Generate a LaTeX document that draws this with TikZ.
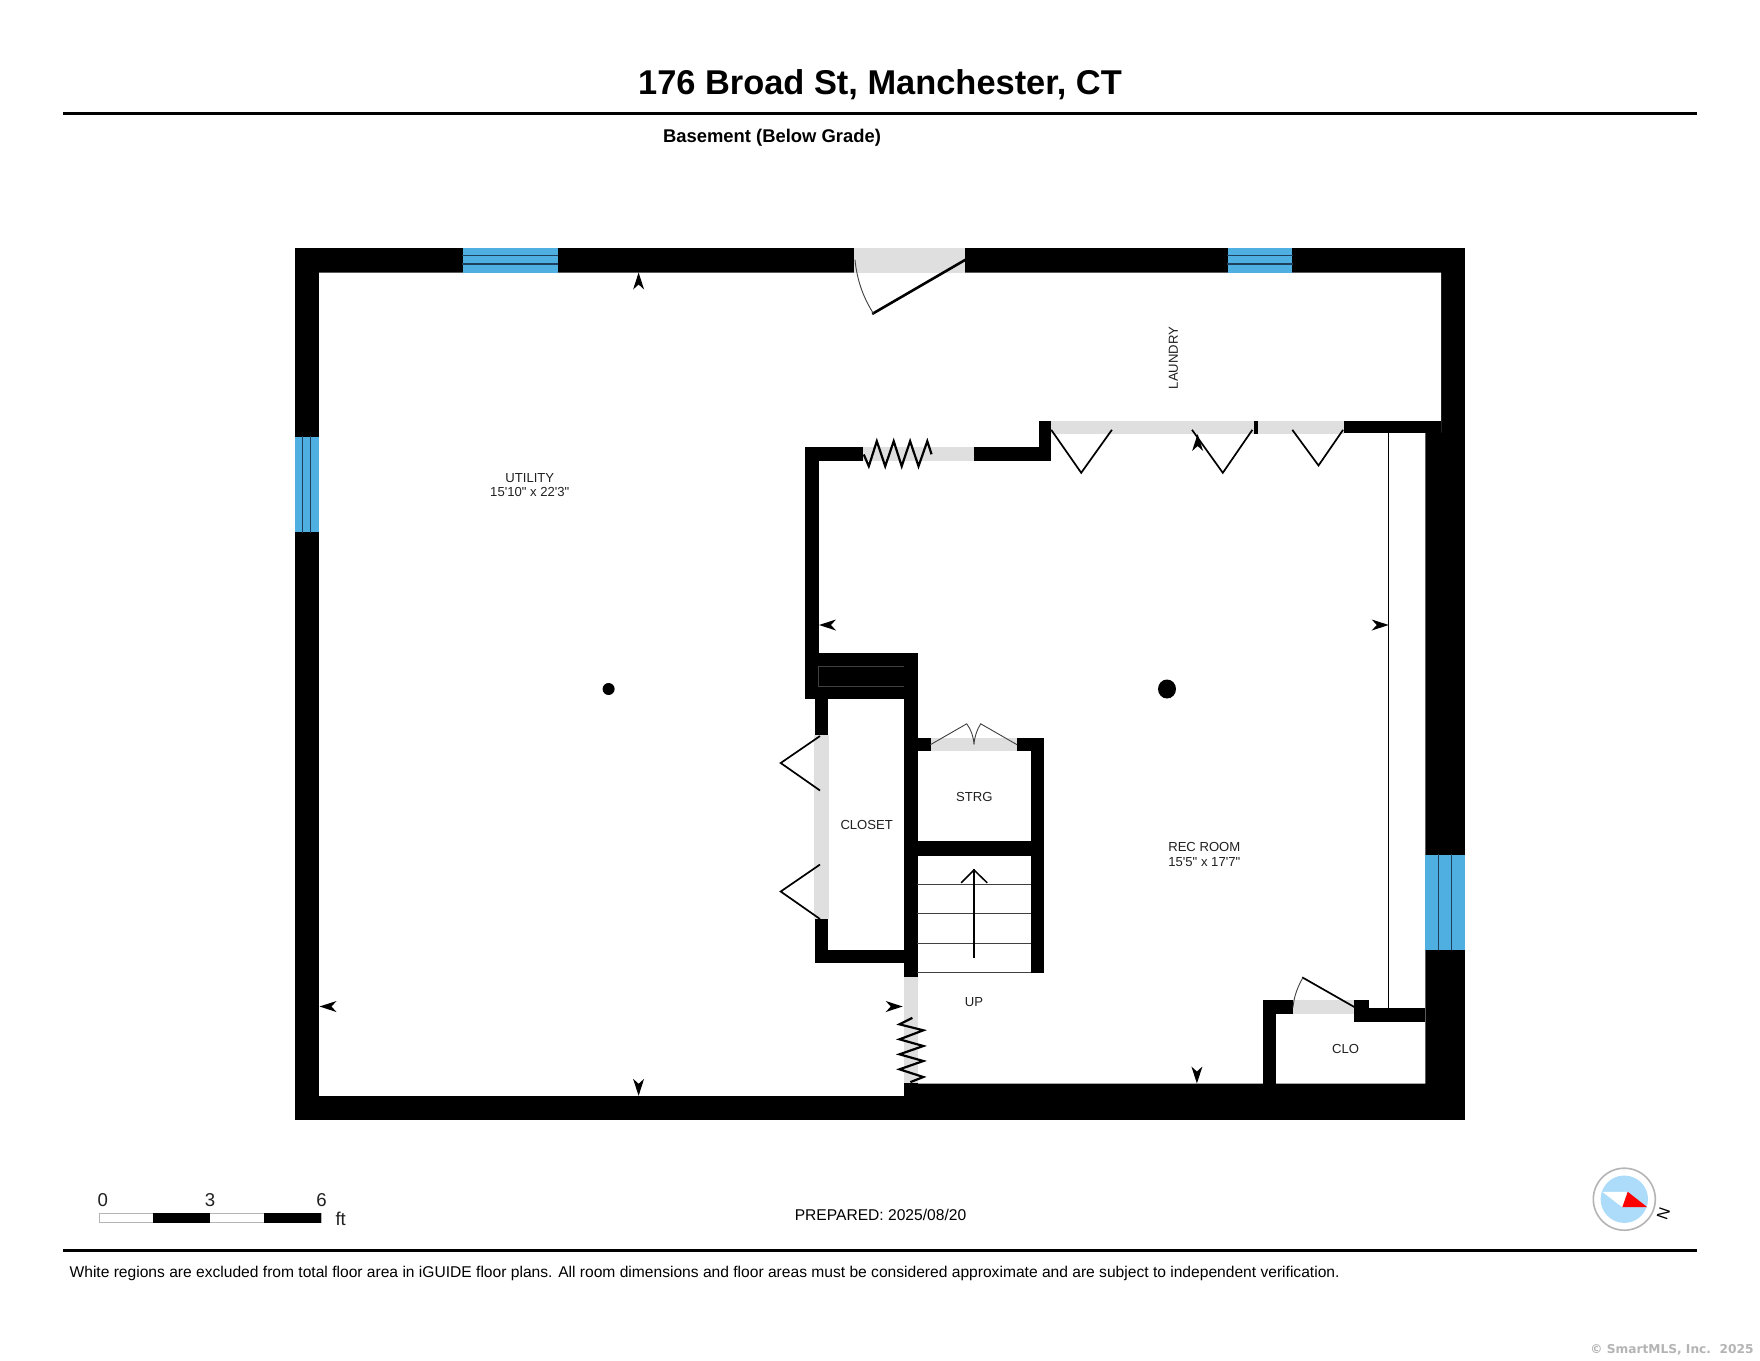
\documentclass[tikz,border=0pt]{standalone}
\usepackage{fontspec}
\newfontfamily\planfont{Liberation Sans}
\newfontfamily\stampfont{DejaVu Sans}
\begin{document}
\begin{tikzpicture}[x=1pt,y=-1pt,line cap=rect,
	wall/.style={fill=black},
	glass/.style={fill=custcol_4f_af_e0},
	glassline/.style={line width=1.3pt, custcol_1f_3f_5f},
	opening/.style={fill=custcol_df_df_df},
	leaf/.style={line width=1.7pt, black},
	swing/.style={line width=0.9pt, custcol_40_40_40},
	rule/.style={line width=3pt, black},
	roomlabel/.style={inner sep=0, outer sep=0, custcol_20_20_20, align=center, font=\planfont\fontsize{13.1pt}{14.6pt}\selectfont},
	scalelabel/.style={inner sep=0, outer sep=0, custcol_20_20_20, font=\planfont\fontsize{18.6pt}{18.6pt}\selectfont},
	sheetlabel/.style={inner sep=0, outer sep=0, black, font=\planfont\fontsize{15.6pt}{15.6pt}\selectfont}]
\definecolor{custcol_4f_af_e0}{RGB}{79, 175, 224}
\definecolor{custcol_1f_3f_5f}{RGB}{31, 63, 95}
\definecolor{custcol_df_df_df}{RGB}{223, 223, 223}
\definecolor{custcol_40_40_40}{RGB}{64, 64, 64}
\definecolor{custcol_20_20_20}{RGB}{32, 32, 32}
\definecolor{custcol_ad_dc_fa}{RGB}{173, 220, 250}
\definecolor{custcol_b4_b4_b4}{RGB}{180, 180, 180}
\useasboundingbox (0,0) rectangle (1760,1360);
\fill [white] (0,0) rectangle (1760,1360);
% heading
\node[inner sep=0, outer sep=0, black, font=\planfont\bfseries\fontsize{34.4pt}{34.4pt}\selectfont] (title) at (880,85) {176 Broad St, Manchester, CT};
\draw [rule] (64.5,113) -- (1695.5,113);
\node[inner sep=0, outer sep=0, black, font=\planfont\bfseries\fontsize{18.4pt}{18.4pt}\selectfont] (level) at (772,138) {Basement (Below Grade)};
% shell
\fill [wall] (294.5,247.5) rectangle (1465,1119.8);
\fill [white] (319,272.5) -- (1441,272.5) -- (1441,432.7) -- (1425.4,432.7) -- (1425.4,1083.5) -- (904.3,1083.5) -- (904.3,1095.8) -- (319,1095.8) -- cycle;
% windows
\fill [glass] (462.8,247.5) rectangle (557.8,272.5);
\draw [glassline] (462.8,255.8) -- (557.8,255.8);
\draw [glassline] (462.8,264) -- (557.8,264);
\fill [glass] (1227.6,247.5) rectangle (1292.3,272.5);
\draw [glassline] (1227.6,255.8) -- (1292.3,255.8);
\draw [glassline] (1227.6,264) -- (1292.3,264);
\fill [glass] (294.5,436.8) rectangle (319,532.4);
\draw [glassline] (302.5,436.8) -- (302.5,532.4);
\draw [glassline] (310.7,436.8) -- (310.7,532.4);
\fill [glass] (1425.4,854.6) rectangle (1465,949.8);
\draw [glassline] (1438.6,854.6) -- (1438.6,949.8);
\draw [glassline] (1451.8,854.6) -- (1451.8,949.8);
% openings
\fill [opening] (854.3,247.5) rectangle (965,272.5);
\fill [opening] (863.4,446.5) rectangle (974,460.5);
\fill [opening] (1050.6,421) rectangle (1253.8,433.6);
\fill [opening] (1257.6,421) rectangle (1343.7,433.6);
\fill [opening] (814.3,735) rectangle (829,919.3);
\fill [opening] (930.7,738) rectangle (1016.7,751.3);
\fill [opening] (904.3,977) rectangle (918,1083);
\fill [opening] (1293,1000.3) rectangle (1354.3,1014);
% inner walls
\fill [wall] (804.9,446.5) rectangle (863.4,460.5);
\fill [wall] (974,446.5) rectangle (1050.6,460.5);
\fill [wall] (1039,421) rectangle (1050.6,460.5);
\fill [wall] (1253.8,421) rectangle (1257.6,433.6);
\fill [wall] (1343.7,421) rectangle (1441,433);
\fill [wall] (804.9,446.5) rectangle (818.7,699);
\fill [wall] (804.9,653) rectangle (917.8,699);
\draw [line width=0.7pt, custcol_40_40_40] (818.7,666.6) rectangle (904.4,686.6);
\fill [wall] (815,699) rectangle (828.3,735);
\fill [wall] (815,919.3) rectangle (828.3,963);
\fill [wall] (815,950) rectangle (904.3,963);
\fill [wall] (904.3,653) rectangle (917.7,977);
\fill [wall] (917.7,738) rectangle (930.7,751.3);
\fill [wall] (1016.7,738) rectangle (1044,751.3);
\fill [wall] (1030.7,738) rectangle (1044,972.5);
\fill [wall] (917.7,841) rectangle (1030.7,856);
\fill [wall] (1262.5,1000.3) rectangle (1276.4,1084);
\fill [wall] (1262.5,1000.3) rectangle (1293,1014);
\fill [wall] (1354.3,1000.3) rectangle (1368.5,1021.7);
\fill [wall] (1354.3,1008) rectangle (1425.4,1021.7);
\fill [wall] (904.3,1082.7) rectangle (918,1096);
% doors
\draw [line width=2.6pt, black] (965,260) -- (873.3,313.3);
\draw [swing] (855,260) .. controls (857,280) and (863,297) .. (873.3,313.3);
\draw [leaf] (1051.7,430.5) -- (1081.2,472.8) -- (1111.4,430.5);
\draw [leaf] (1192.5,430.5) -- (1222.8,472.8) -- (1251.9,430.5);
\draw [leaf] (1292.8,430.5) -- (1318.5,465.5) -- (1342.6,430.5);
\draw [leaf] (819.3,736.5) -- (780.7,763) -- (819.3,790);
\draw [leaf] (819.3,865) -- (780.7,891.5) -- (819.3,918.5);
\draw [swing] (930.7,744.5) -- (966.7,723.8) .. controls (971,729.5) and (973.5,736.5) .. (974,744.5) .. controls (974.5,736.5) and (977,729.5) .. (980.7,723.8) -- (1016.7,744.5);
\draw [leaf] (1354.3,1007) -- (1302.9,977.7);
\draw [swing] (1293,1007) .. controls (1294,996) and (1298,986) .. (1302.9,977.7);
% pocket doors
\draw [line width=2.2pt, black, line join=miter] (864.2,455.5) -- (868.8,466.2) -- (876.8,441.2) -- (885.2,466.2) -- (893.7,441.2) -- (901.7,466.2) -- (910.1,441.2) -- (918.5,466.2) -- (927.3,441.2) -- (931.2,453.2);
\draw [line width=2.2pt, black, line join=miter] (911.4,1018.3) -- (899.5,1024.3) -- (923.3,1030.3) -- (899.5,1039.3) -- (923.3,1046) -- (899.5,1054.3) -- (923.3,1061) -- (899.5,1069.3) -- (923.3,1077) -- (911.4,1081.7);
% stairs
\foreach \y in {884.3,913.7,943.7,972.7}
	\draw [line width=1.2pt, custcol_40_40_40] (917.7,\y) -- (1030.7,\y);
\draw [line width=1.5pt, black] (974,957.5) -- (974,870);
\draw [line width=1.5pt, black] (961.7,882.3) -- (974,870) -- (986.7,882.3);
% thin partition
\draw [line width=1.5pt, black] (1388.7,432.7) -- (1388.7,1008);
% view markers
\foreach \x/\y/\a in {638.6/272.5/90,638.6/1095.8/-90,319.5/1006.5/180,902.7/1006.5/0,819/625/180,1388.7/625/0,1197.6/434/90,1196.9/1083.5/-90}
	\fill [shift={(\x,\y)}, rotate=\a] (0,0) -- (-17,5.5) -- (-12,0) -- (-17,-5.5) -- cycle;
% posts
\fill [black] (608.6,689) circle (6);
\fill [black] (1167,689) ellipse (9 and 9.5);
% rooms
\node[roomlabel] (utility) at (529.8,485) {UTILITY\\15'10" x 22'3"};
\node[roomlabel, rotate=90] (laundry) at (1173.5,358) {LAUNDRY};
\node[roomlabel] (recroom) at (1204.3,854.5) {REC ROOM\\15'5" x 17'7"};
\node[roomlabel] (closet) at (866.7,825) {CLOSET};
\node[roomlabel] (strg) at (974.3,796.7) {STRG};
\node[roomlabel] (up) at (973.9,1002) {UP};
\node[roomlabel] (clo) at (1345.6,1049) {CLO};
% scale bar
\draw [line width=1pt, custcol_b4_b4_b4, fill=white] (99.3,1213) rectangle (321,1222.6);
\fill [black] (153.3,1212.5) rectangle (210,1223.1);
\fill [black] (264.3,1212.5) rectangle (321,1223.1);
\node[scalelabel] (zero) at (102.7,1200) {0};
\node[scalelabel] (three) at (210,1200) {3};
\node[scalelabel] (six) at (321.5,1200) {6};
\node[scalelabel] (feet) at (340.7,1219) {ft};
\node[sheetlabel] (prepared) at (880.5,1214.5) {PREPARED: 2025/08/20};
% compass
\draw [line width=1.6pt, custcol_b4_b4_b4] (1624.3,1199.2) circle (31);
\fill [custcol_ad_dc_fa] (1624.3,1199.2) circle (23.7);
\fill [white] (1602.3,1191.8) -- (1627.7,1191.8) -- (1622.3,1207.2) -- cycle;
\fill [red] (1627.7,1191.8) -- (1647.3,1207.2) -- (1622.3,1207.2) -- cycle;
\node[inner sep=0, outer sep=0, black, rotate=-109, font=\planfont\fontsize{16pt}{16pt}\selectfont] (north) at (1663.3,1213.5) {N};
% footer
\draw [rule] (64.5,1250) -- (1695.5,1250);
\node[sheetlabel, anchor=west] (disclaimer) at (69.6,1273.5) {White regions are excluded from total floor area in iGUIDE floor plans. All room dimensions and floor areas must be considered approximate and are subject to independent verification.};
\node[inner sep=0, outer sep=0, custcol_b4_b4_b4, anchor=east, font=\stampfont\bfseries\fontsize{12.2pt}{12.2pt}\selectfont] (stamp) at (1753.5,1350) {© SmartMLS, Inc.~~2025};
\end{tikzpicture}
\end{document}
